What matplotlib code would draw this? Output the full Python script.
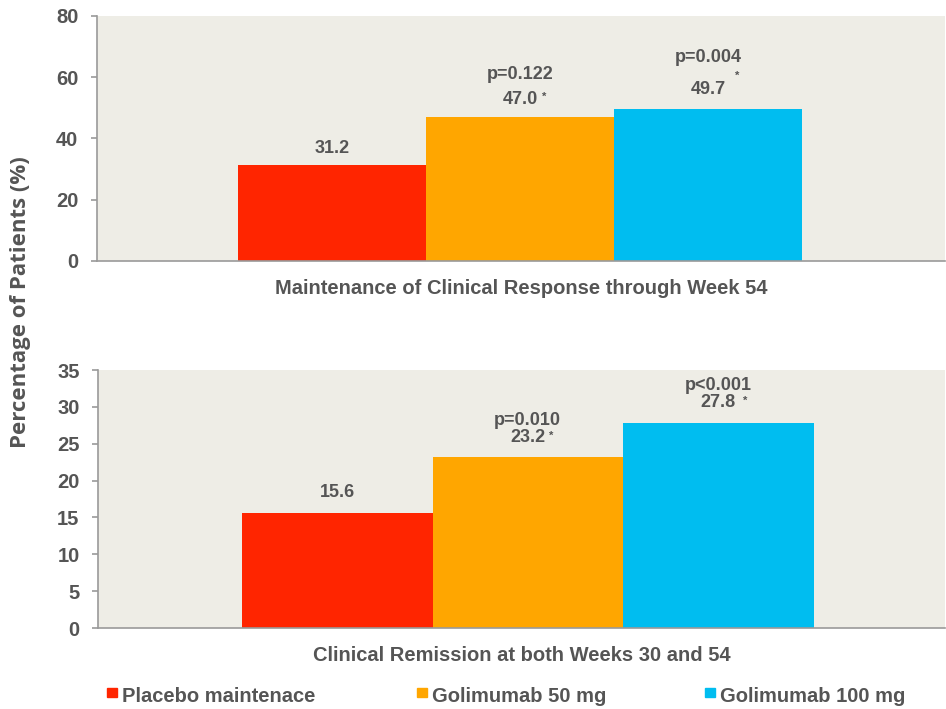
import matplotlib.pyplot as plt
from matplotlib.patches import Rectangle

groups = ['Placebo maintenace', 'Golimumab 50 mg', 'Golimumab 100 mg']
colors = ['#FF2500', '#FFA600', '#00BDF0']

response = [31.2, 47.0, 49.7]
response_p = [None, 'p=0.122', 'p=0.004']
remission = [15.6, 23.2, 27.8]
remission_p = [None, 'p=0.010', 'p<0.001']

TXT = '#555555'
BG = '#EEEDE6'
plt.rcParams['font.family'] = ['Liberation Sans', 'DejaVu Sans']
plt.rcParams['font.weight'] = 'bold'


def draw_panel(ax, values, pvals, ymax, step, xlim, title, star_dx, offs):
    ax.set_facecolor(BG)
    x = range(len(values))
    ax.bar(x, values, width=1.0, color=colors, edgecolor='none')
    ax.set_xlim(*xlim)
    ax.set_ylim(0, ymax)
    ax.set_yticks(range(0, ymax + 1, step))
    ax.set_xticks([])
    for side in ['top', 'right']:
        ax.spines[side].set_visible(False)
    for side in ['left', 'bottom']:
        ax.spines[side].set_color('#9a9a9a')
        ax.spines[side].set_linewidth(1.2)
    ax.tick_params(axis='y', colors='#9a9a9a', length=4.3, width=1.2,
                   labelcolor=TXT, labelsize=14.5, pad=9)
    for lab in ax.get_yticklabels():
        lab.set_fontweight('bold')
    ax.set_xlabel(title, color=TXT, fontsize=14.5, fontweight='bold', labelpad=13)

    val_off, p_off, star_off = offs
    for i, (v, p) in enumerate(zip(values, pvals)):
        ax.annotate('%.1f' % v, (i, v), xytext=(0, val_off[i]),
                    textcoords='offset pixels', ha='center', va='center',
                    color=TXT, fontsize=13, fontweight='bold')
        if p is not None:
            ax.annotate(p, (i, v), xytext=(0, p_off[i]),
                        textcoords='offset pixels', ha='center', va='center',
                        color=TXT, fontsize=13, fontweight='bold')
            ax.annotate('*', (i, v), xytext=(star_dx[i], star_off[i]),
                        textcoords='offset pixels', ha='center', va='center',
                        color=TXT, fontsize=8, fontweight='bold')


fig = plt.figure(figsize=(9.46, 7.09), dpi=100)
ax1 = fig.add_axes([0.1025, 0.6319, 0.8964, 0.3456])
ax2 = fig.add_axes([0.1036, 0.1142, 0.8953, 0.3639])

draw_panel(ax1, response, response_p, 80, 20, (-1.25, 3.26),
           'Maintenance of Clinical Response through Week 54',
           [0, 24, 29], ([17, 18, 19], [None, 43, 51], [None, 20, 33]))
draw_panel(ax2, remission, remission_p, 35, 5, (-1.256, 3.19),
           'Clinical Remission at both Weeks 30 and 54',
           [0, 23, 27], ([21, 20, 21], [None, 37, 38], [None, 21, 22]))

fig.text(0.022, 1 - 302 / 709, 'Percentage of Patients (%)', rotation=90,
         ha='center', va='center', color=TXT, fontsize=16,
         family='Open Sans', fontweight='bold')

# legend squares + labels along the bottom
leg_x = [107, 417, 705]
for xx, c, name in zip(leg_x, colors, groups):
    fig.patches.append(Rectangle((xx / 946, 1 - 697 / 709), 10 / 946, 9 / 709,
                                 transform=fig.transFigure, color=c))
    fig.text((xx + 15) / 946, 1 - 696 / 709, name, ha='left', va='center',
             color=TXT, fontsize=14.5, fontweight='bold')

fig.savefig('out.png', dpi=100)
